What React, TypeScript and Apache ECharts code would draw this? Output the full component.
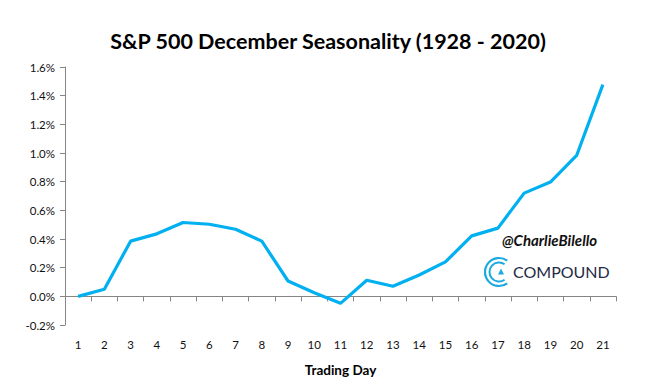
import React, { useEffect, useRef } from "react";
import * as echarts from "echarts";

const days = ["1","2","3","4","5","6","7","8","9","10","11","12","13","14","15","16","17","18","19","20","21"];
const avgReturn = [0.0, 0.049, 0.385, 0.436, 0.515, 0.503, 0.468, 0.385, 0.107, 0.025, -0.049, 0.112, 0.07, 0.149, 0.24, 0.422, 0.476, 0.72, 0.797, 0.983, 1.477];
const titleText = "S&P 500 December Seasonality (1928 - 2020)";
const xName = "Trading Day";

export default function App() {
  const ref = useRef<HTMLDivElement>(null);
  useEffect(() => {
    const chart = echarts.init(ref.current!, undefined, { renderer: "svg" });
    const axisColor = "#868686";
    chart.setOption({
      animation: false,
      backgroundColor: "#ffffff",
      title: {
        text: titleText,
        left: 323,
        textAlign: "center",
        top: 25,
        textStyle: { fontFamily: "Lato", fontWeight: "bold", fontSize: 21.5, color: "#000" },
      },
      grid: { left: 65, right: 45, top: 67, bottom: 60 },
      xAxis: [
        {
          type: "category",
          data: days,
          axisLine: { onZero: true, lineStyle: { color: axisColor, width: 1 } },
          axisTick: { show: true, length: 5, lineStyle: { color: axisColor } },
          axisLabel: { show: false },
          splitLine: { show: false },
        },
        {
          type: "category",
          data: days,
          position: "bottom",
          axisLine: { show: false, onZero: false },
          axisTick: { show: false },
          axisLabel: { show: true, margin: 13, fontFamily: "Lato", fontSize: 11.5, color: "#111" },
          name: xName,
          nameLocation: "middle",
          nameGap: 38,
          nameTextStyle: { fontFamily: "Lato", fontWeight: "bold", fontSize: 13.5, color: "#000" },
        },
      ],
      yAxis: {
        type: "value",
        min: -0.2,
        max: 1.6,
        interval: 0.2,
        axisLine: { show: true, lineStyle: { color: axisColor } },
        axisTick: { show: true, length: 5, lineStyle: { color: axisColor } },
        splitLine: { show: false },
        axisLabel: {
          margin: 10,
          fontFamily: "Lato",
          fontSize: 11.5,
          color: "#111",
          formatter: (v: number) => v.toFixed(1) + "%",
        },
      },
      series: [
        {
          type: "line",
          data: avgReturn,
          xAxisIndex: 0,
          symbol: "none",
          lineStyle: { color: "#00B0F0", width: 3.2 },
        },
      ],
      graphic: [
        {
          type: "text",
          left: 502,
          top: 232,
          style: {
            text: "@CharlieBilello",
            fontFamily: "Lato",
            fontStyle: "italic",
            fontWeight: "bold",
            fontSize: 15,
            fill: "#111",
          },
        },
        {
          type: "arc",
          shape: { cx: 499, cy: 272, r: 14, startAngle: Math.PI * 0.3, endAngle: Math.PI * 1.7 },
          style: { stroke: "#1aa9e1", lineWidth: 2.2, fill: "none" },
        },
        {
          type: "arc",
          shape: { cx: 499, cy: 272, r: 9.5, startAngle: Math.PI * 0.3, endAngle: Math.PI * 1.7 },
          style: { stroke: "#1aa9e1", lineWidth: 2, fill: "none" },
        },
        {
          type: "polygon",
          shape: { points: [[501, 268.5], [504, 274.5], [498, 274.5]] },
          style: { fill: "#1aa9e1" },
        },
        {
          type: "text",
          left: 513,
          top: 263,
          style: {
            text: "COMPOUND",
            fontFamily: "Lato",
            fontSize: 16,
            fill: "#1f2a44",
          },
        },
      ],
    });
    return () => chart.dispose();
  }, []);
  return <div ref={ref} style={{ width: 661, height: 385, position: "absolute", left: 0, top: 0 }} />;
}
